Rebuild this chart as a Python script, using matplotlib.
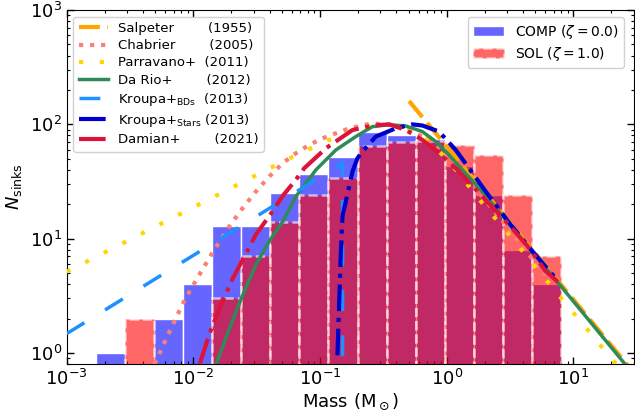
import numpy as np
import matplotlib
matplotlib.use("Agg")
import matplotlib.pyplot as plt

# ---- histogram data ----
bin_edges = [0.001702, 0.002887, 0.004898, 0.008309, 0.014093, 0.02390, 0.04055,
             0.06879, 0.11668, 0.19793, 0.33574, 0.56954, 0.96605, 1.6388,
             2.7797, 4.7152, 7.9983]
comp_counts = [1, 0, 2, 4, 13, 13, 25, 37, 52, 85, 81, 75, 43, 24, 8, 4]
sol_counts = [0, 2, 0, 0, 3, 7, 14, 24, 34, 65, 70, 72, 66, 54, 24, 7]

# ---- IMF curves ----
salpeter_m = [0.505, 30.0]
salpeter_n = [160.0, 0.675]

chabrier_m = [0.00495, 0.00594, 0.00713, 0.00853, 0.01057, 0.01403, 0.0193, 0.0246,
              0.0313, 0.0399, 0.0508, 0.0647, 0.0824, 0.1047, 0.1337, 0.170, 0.259,
              0.355, 0.475, 0.605, 0.726, 0.871, 1.0, 1.413, 1.968, 2.742, 3.49,
              4.446, 5.495, 6.592]
chabrier_n = [0.80, 1.25, 1.92, 2.91, 4.38, 7.41, 12.9, 18.6, 26.0, 35.1, 45.8, 56.0,
              66.2, 75.5, 83.6, 92.3, 102.1, 98.9, 91.2, 80.9, 71.9, 63.1, 56.2, 35.5,
              22.4, 14.5, 10.2, 7.31, 5.42, 4.29]

parravano_m = [0.001, 0.00316, 0.01, 0.0316, 0.0501, 0.0667, 0.0875, 0.116, 0.155,
               0.2065, 0.2844, 0.390, 0.530, 0.692, 0.859, 1.062, 1.288, 1.905, 2.864,
               4.266, 7.71, 14.0, 17.1, 28.2]
parravano_n = [5.13, 9.83, 18.8, 36.1, 46.8, 54.8, 62.7, 72.4, 82.6, 93.5, 98.9, 100.7,
               91.2, 75.5, 59.0, 46.5, 35.6, 20.6, 12.1, 7.08, 3.18, 1.445, 1.104, 0.565]

dario_m = [0.01517, 0.01905, 0.02399, 0.03133, 0.0398, 0.0508, 0.0647, 0.0931, 0.1337,
           0.1919, 0.2594, 0.3516, 0.4753, 0.6427, 0.8185, 1.042, 1.327, 1.995, 3.289,
           8.128, 30.0]
dario_n = [0.80, 1.585, 3.02, 5.98, 9.55, 14.1, 23.5, 40.1, 59.8, 78.2, 95.5, 99.3, 96.8,
           86.5, 70.8, 54.2, 40.1, 24.4, 12.5, 3.75, 0.646]

kroupa_bd_m = [0.001, 0.1507, 0.1507]
kroupa_bd_n = [1.476, 45.8, 0.5]

kroupa_st_m = [0.1374, 0.1419, 0.1462, 0.1507, 0.1648, 0.1807, 0.1977, 0.2163, 0.2761,
               0.3963, 0.5358, 0.6427, 0.871, 1.178, 1.500, 2.028, 3.192, 4.864, 7.413]
kroupa_st_n = [0.955, 2.87, 7.82, 15.8, 24.5, 38.8, 50.6, 57.9, 78.2, 92.3, 100.0, 97.7,
               86.5, 59.8, 41.4, 26.0, 13.3, 7.55, 4.37]

damian_m = [0.01122, 0.01343, 0.01622, 0.02042, 0.0263, 0.03133, 0.0399, 0.0513, 0.0647,
            0.0752, 0.1114, 0.1807, 0.2594, 0.3516, 0.4753, 0.6427, 0.871, 1.178, 1.995,
            3.097, 4.446, 6.012, 7.656]
damian_n = [0.80, 1.48, 2.51, 4.47, 7.59, 10.96, 15.85, 24.0, 32.9, 41.4, 61.8, 89.3, 97.7,
            100.0, 89.3, 73.1, 56.0, 41.4, 22.3, 13.3, 8.36, 5.24, 4.14]

labels = ["Salpeter        (1955)",
          "Chabrier        (2005)",
          "Parravano+  (2011)",
          "Da Rio+        (2012)",
          r"Kroupa+$_{\mathrm{BDs}}$  (2013)",
          r"Kroupa+$_{\mathrm{Stars}}$ (2013)",
          "Damian+        (2021)"]

fig = plt.figure(figsize=(6.35, 4.18), dpi=100)
ax = fig.add_axes([0.105, 0.129, 0.893, 0.847])

edges = np.array(bin_edges)
centers = np.sqrt(edges[:-1] * edges[1:])
h1 = ax.hist(centers, bins=edges, weights=comp_counts, color=(0.4, 0.4, 1.0),
             edgecolor='white', linewidth=1.0, label=r"COMP ($\zeta = 0.0$)", zorder=1)
h2 = ax.hist(centers, bins=edges, weights=sol_counts, color='red', alpha=0.6,
             edgecolor='white', linewidth=1.8, linestyle='--',
             label=r"SOL ($\zeta = 1.0$)", zorder=2)

l1, = ax.plot(salpeter_m, salpeter_n, color='orange', lw=3, ls=(0, (5, 1.8)), zorder=5)
l2, = ax.plot(chabrier_m, chabrier_n, color='salmon', lw=3, ls=':', zorder=5)
l3, = ax.plot(parravano_m, parravano_n, color='gold', lw=3, ls=(0, (1, 4)), zorder=5)
l4, = ax.plot(dario_m, dario_n, color='seagreen', lw=2.5, ls='-', zorder=5)
l5, = ax.plot(kroupa_bd_m, kroupa_bd_n, color='dodgerblue', lw=2.5, ls=(0, (6, 7)), zorder=5)
l6, = ax.plot(kroupa_st_m, kroupa_st_n, color='mediumblue', lw=3, ls='-.', zorder=5)
l7, = ax.plot(damian_m, damian_n, color='crimson', lw=3, ls='-.', zorder=5)

ax.set_xscale('log')
ax.set_yscale('log')
ax.set_xlim(1e-3, 30)
ax.set_ylim(0.8, 1000)

ax.set_xlabel(r"Mass (M$_\odot$)", fontsize=13, labelpad=2)
ax.set_ylabel(r"$N_{\rm sinks}$", fontsize=13)
ax.tick_params(which='both', direction='in', top=True, right=True, labelsize=13)
ax.tick_params(which='major', length=5, width=1)
ax.tick_params(which='minor', length=2.5, width=0.8)

leg1 = ax.legend([l1, l2, l3, l4, l5, l6, l7], labels, loc='upper left', fontsize=9.5,
                 labelspacing=0.32, handlelength=2.2, framealpha=0.9,
                 bbox_to_anchor=(0.0, 1.0))
ax.add_artist(leg1)
ax.legend(handles=[h1[2][0], h2[2][0]], labels=[r"COMP ($\zeta = 0.0$)", r"SOL ($\zeta = 1.0$)"],
          loc='upper right', fontsize=10, handlelength=2.2, framealpha=0.9,
          labelspacing=0.3, bbox_to_anchor=(0.995, 1.0))

fig.savefig("out.png", dpi=100)
